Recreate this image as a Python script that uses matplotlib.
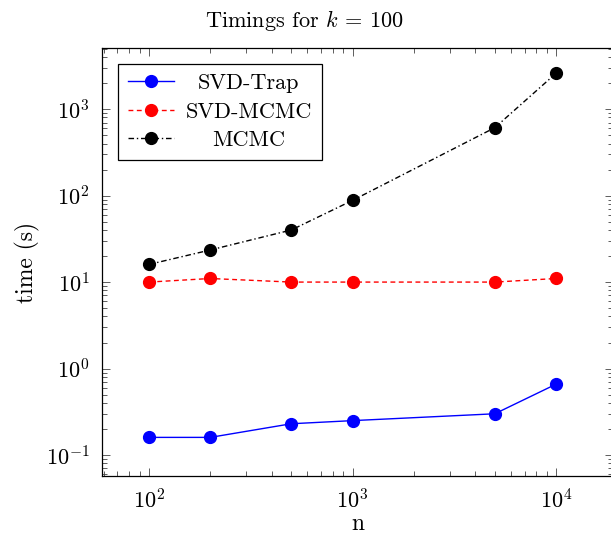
import matplotlib
matplotlib.use("Agg")
import matplotlib.pyplot as plt
from matplotlib.transforms import IdentityTransform
from matplotlib.ticker import LogLocator, NullFormatter

plt.rcParams['font.family'] = 'serif'
plt.rcParams['font.serif'] = ['cmr10', 'DejaVu Serif']
plt.rcParams['mathtext.fontset'] = 'cm'
plt.rcParams['axes.formatter.use_mathtext'] = True

n = [100, 200, 500, 1000, 5000, 10000]
svd_trap = [0.16, 0.16, 0.23, 0.25, 0.30, 0.66]
svd_mcmc = [10, 11, 10, 10, 10, 11]
mcmc = [16, 23.5, 40, 88, 610, 2600]

fig = plt.figure(figsize=(6.11, 5.35), dpi=100)
# right edge of the axes sits just past the image border, as in the reference
ax = fig.add_axes([0.167, 0.110, 0.836, 0.800])

ax.plot(n, svd_trap, color='blue', lw=1.0, marker='o', ms=8.5, label='SVD-Trap')
ax.plot(n, svd_mcmc, color='red', lw=1.0, ls=(0, (3.5, 2.5)), marker='o', ms=8.5, label='SVD-MCMC')
ax.plot(n, mcmc, color='black', lw=1.0, ls=(0, (4, 2, 1, 2)), marker='o', ms=8.5, label='MCMC')

ax.set_xscale('log')
ax.set_yscale('log')
ax.set_xlim(58.8, 19000)
ax.set_ylim(0.057, 5070)

for a in (ax.xaxis, ax.yaxis):
    a.set_major_locator(LogLocator(base=10, numticks=10))
    a.set_minor_locator(LogLocator(base=10, subs=range(2, 10), numticks=10))
    a.set_minor_formatter(NullFormatter())

ax.tick_params(which='both', direction='in', top=True, right=True, color='#444444', width=0.6)
ax.tick_params(which='major', length=6, labelsize=16, pad=9)
ax.tick_params(which='minor', length=3.5)
for s in ax.spines.values():
    s.set_linewidth(0.9)

ax.set_title('Timings for $k$ = 100', fontsize=16, x=0.396, pad=15)
ax.set_xlabel('n', fontsize=17, labelpad=0)
ax.set_ylabel('time (s)', fontsize=17, labelpad=4)

leg = ax.legend(loc='upper left', fontsize=16, fancybox=False, framealpha=1,
                edgecolor='black', borderaxespad=0.7, handlelength=2.1,
                labelspacing=0.4, borderpad=0.45, handletextpad=0.5)
leg.get_frame().set_linewidth(0.9)

# pgfplots centres the legend entries: redraw the labels centred on their column
fig.canvas.draw()
boxes = [t.get_window_extent() for t in leg.get_texts()]
cx = (min(b.x0 for b in boxes) + max(b.x1 for b in boxes)) / 2
for t, b in zip(leg.get_texts(), boxes):
    fig.text(cx, (b.y0 + b.y1) / 2, t.get_text(), fontsize=16,
             ha='center', va='center', transform=IdentityTransform())
    t.set_alpha(0)

fig.savefig('out.png', dpi=100)
